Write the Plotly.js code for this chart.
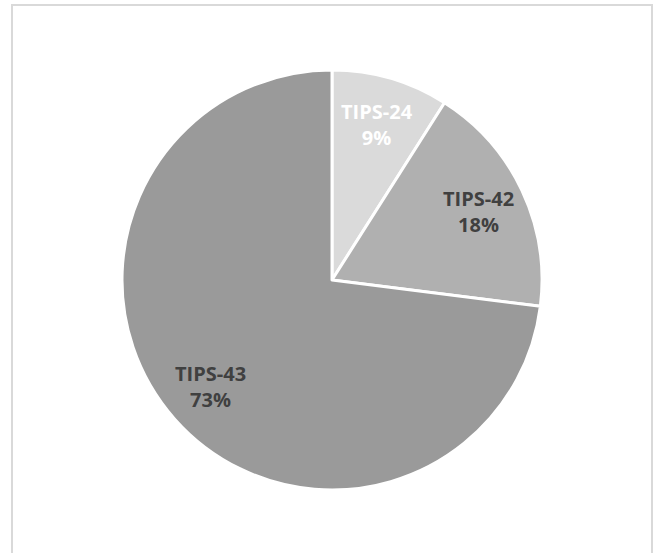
<!DOCTYPE html>
<html>
<head>
<meta charset="utf-8">
<script src="https://cdn.plot.ly/plotly-3.0.1.min.js"></script>
<style>
html,body{margin:0;padding:0;background:#fff;}
#chart{width:659px;height:553px;}
</style>
</head>
<body>
<div id="chart"></div>
<script>
const categories = ["TIPS-24", "TIPS-42", "TIPS-43"];
const shares = [9, 18, 73];
const sliceColors = ["#dadada", "#b0b0b0", "#9a9a9a"];
const labelColors = ["#ffffff", "#404040", "#404040"];

const W = 659, H = 553;
const cx = 332, cy = 280, R = 210;
const labelRadius = 0.77;

const trace = {
  type: "pie",
  labels: categories,
  values: shares,
  sort: false,
  direction: "clockwise",
  rotation: 0,
  marker: {colors: sliceColors, line: {color: "#ffffff", width: 3}},
  textinfo: "none",
  hoverinfo: "none",
  showlegend: false,
  domain: {x: [(cx - R) / W, (cx + R) / W], y: [1 - (cy + R) / H, 1 - (cy - R) / H]}
};

// labels placed along each slice's bisector, derived from the data
const total = shares.reduce((a, b) => a + b, 0);
let cum = 0;
const annotations = categories.map((c, i) => {
  const mid = (cum + shares[i] / 2) / total * 2 * Math.PI;
  cum += shares[i];
  const px = cx + labelRadius * R * Math.sin(mid);
  const py = cy - labelRadius * R * Math.cos(mid);
  return {
    xref: "paper", yref: "paper", x: px / W, y: 1 - py / H,
    xanchor: "center", yanchor: "middle", showarrow: false,
    text: c + "<br>" + Math.round(shares[i] / total * 100) + "%",
    font: {family: "Open Sans, sans-serif", size: 20, color: labelColors[i], weight: "bold"},
    align: "center"
  };
});

const layout = {
  width: W, height: H,
  margin: {l: 0, r: 0, t: 0, b: 0},
  paper_bgcolor: "#ffffff",
  showlegend: false,
  annotations: annotations,
  shapes: [{
    type: "rect", xref: "paper", yref: "paper",
    x0: 12 / W, x1: 652 / W, y0: -0.2, y1: 1 - 5 / H,
    line: {color: "#d9d9d9", width: 2}, fillcolor: "rgba(0,0,0,0)", layer: "below"
  }]
};

Plotly.newPlot("chart", [trace], layout, {displayModeBar: false, staticPlot: true});
</script>
</body>
</html>
